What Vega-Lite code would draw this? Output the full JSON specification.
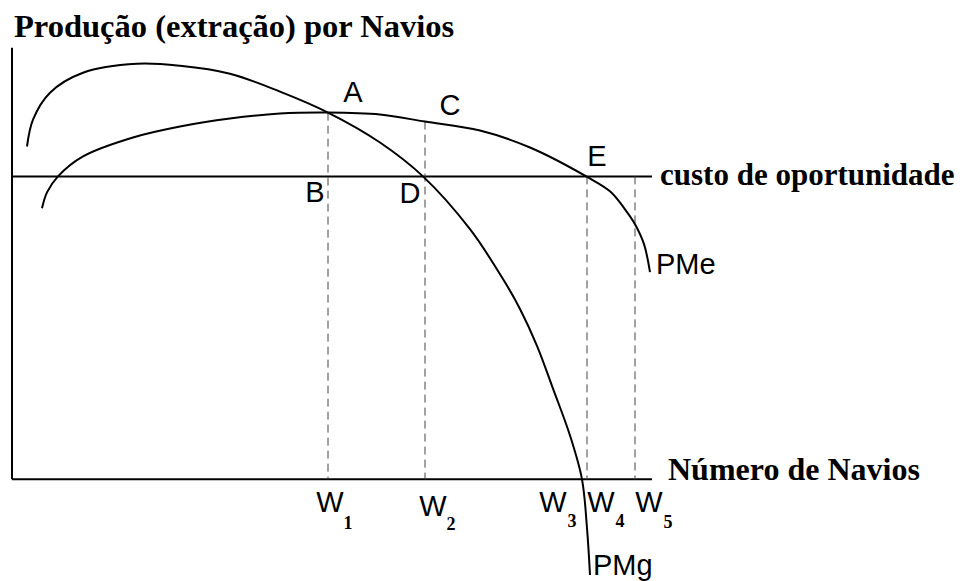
{
  "$schema": "https://vega.github.io/schema/vega-lite/v6.json",
  "width": 962,
  "height": 581,
  "autosize": {"type": "fit", "contains": "padding"},
  "padding": 0,
  "background": "white",
  "config": {"view": {"stroke": null}},
  "datasets": {
    "axes": [
      {"x": 0, "y": 0, "x2": 0, "y2": 433},
      {"x": 0, "y": 0, "x2": 640, "y2": 0},
      {"x": 0, "y": 304, "x2": 640, "y2": 304}
    ],
    "guides": [
      {"x": 316, "y": 368},
      {"x": 413, "y": 359},
      {"x": 575, "y": 304},
      {"x": 623, "y": 304}
    ],
    "curves": [
      {"curve": "PMg", "i": 1, "x": 15, "y": 334},
      {"curve": "PMg", "i": 2, "x": 21, "y": 361},
      {"curve": "PMg", "i": 3, "x": 38, "y": 388},
      {"curve": "PMg", "i": 4, "x": 71, "y": 408},
      {"curve": "PMg", "i": 5, "x": 125, "y": 417},
      {"curve": "PMg", "i": 6, "x": 168, "y": 415},
      {"curve": "PMg", "i": 7, "x": 218, "y": 407},
      {"curve": "PMg", "i": 8, "x": 268, "y": 389},
      {"curve": "PMg", "i": 9, "x": 316, "y": 368},
      {"curve": "PMg", "i": 10, "x": 368, "y": 338},
      {"curve": "PMg", "i": 11, "x": 411, "y": 304},
      {"curve": "PMg", "i": 12, "x": 458, "y": 251},
      {"curve": "PMg", "i": 13, "x": 491, "y": 201},
      {"curve": "PMg", "i": 14, "x": 508, "y": 171},
      {"curve": "PMg", "i": 15, "x": 525, "y": 134},
      {"curve": "PMg", "i": 16, "x": 541, "y": 91},
      {"curve": "PMg", "i": 17, "x": 558, "y": 44},
      {"curve": "PMg", "i": 18, "x": 570, "y": 0},
      {"curve": "PMg", "i": 19, "x": 575, "y": -49},
      {"curve": "PMg", "i": 20, "x": 578, "y": -96},
      {"curve": "PMe", "i": 1, "x": 30, "y": 272},
      {"curve": "PMe", "i": 2, "x": 35, "y": 288},
      {"curve": "PMe", "i": 3, "x": 46, "y": 304},
      {"curve": "PMe", "i": 4, "x": 71, "y": 324},
      {"curve": "PMe", "i": 5, "x": 121, "y": 343},
      {"curve": "PMe", "i": 6, "x": 168, "y": 354},
      {"curve": "PMe", "i": 7, "x": 218, "y": 362},
      {"curve": "PMe", "i": 8, "x": 268, "y": 367},
      {"curve": "PMe", "i": 9, "x": 316, "y": 368},
      {"curve": "PMe", "i": 10, "x": 368, "y": 366},
      {"curve": "PMe", "i": 11, "x": 413, "y": 359},
      {"curve": "PMe", "i": 12, "x": 468, "y": 350},
      {"curve": "PMe", "i": 13, "x": 518, "y": 333},
      {"curve": "PMe", "i": 14, "x": 576, "y": 303},
      {"curve": "PMe", "i": 15, "x": 598, "y": 289},
      {"curve": "PMe", "i": 16, "x": 613, "y": 271},
      {"curve": "PMe", "i": 17, "x": 623, "y": 256},
      {"curve": "PMe", "i": 18, "x": 632, "y": 236},
      {"curve": "PMe", "i": 19, "x": 638, "y": 208}
    ],
    "title": [
      {"t": "Produção (extração) por Navios", "x": 2, "y": 444}
    ],
    "serifLabels": [
      {"t": "custo de oportunidade", "x": 648, "y": 295}
    ],
    "xLabel": [
      {"t": "Número de Navios", "x": 656, "y": -1}
    ],
    "pointLabels": [
      {"t": "A", "x": 341, "y": 379},
      {"t": "C", "x": 438, "y": 366},
      {"t": "B", "x": 303, "y": 278},
      {"t": "D", "x": 398, "y": 277},
      {"t": "E", "x": 585, "y": 314},
      {"t": "W", "x": 318, "y": -33},
      {"t": "W", "x": 421, "y": -37},
      {"t": "W", "x": 541, "y": -33},
      {"t": "W", "x": 589, "y": -33},
      {"t": "W", "x": 637, "y": -33}
    ],
    "leftLabels": [
      {"t": "PMe", "x": 644, "y": 206},
      {"t": "PMg", "x": 581, "y": -96}
    ],
    "subs": [
      {"t": "1", "x": 336, "y": -50},
      {"t": "2", "x": 439, "y": -51},
      {"t": "3", "x": 560, "y": -48},
      {"t": "4", "x": 608, "y": -48},
      {"t": "5", "x": 656, "y": -49}
    ]
  },
  "layer": [
    {
      "data": {"name": "axes"},
      "mark": {"type": "rule", "color": "black", "strokeWidth": 2},
      "encoding": {
        "x": {"field": "x", "type": "quantitative", "scale": {"domain": [-12, 950], "nice": false, "zero": false}, "axis": null},
        "y": {"field": "y", "type": "quantitative", "scale": {"domain": [-100, 481], "nice": false, "zero": false}, "axis": null},
        "x2": {"field": "x2"},
        "y2": {"field": "y2"}
      }
    },
    {
      "data": {"name": "guides"},
      "mark": {"type": "rule", "color": "#444444", "strokeWidth": 1, "strokeDash": [8, 5]},
      "encoding": {
        "x": {"field": "x", "type": "quantitative"},
        "y": {"field": "y", "type": "quantitative"},
        "y2": {"datum": 0}
      }
    },
    {
      "data": {"name": "curves"},
      "mark": {"type": "line", "color": "black", "strokeWidth": 2, "interpolate": "catmull-rom"},
      "encoding": {
        "x": {"field": "x", "type": "quantitative"},
        "y": {"field": "y", "type": "quantitative"},
        "detail": {"field": "curve"},
        "order": {"field": "i", "type": "quantitative"}
      }
    },
    {
      "data": {"name": "title"},
      "mark": {"type": "text", "font": "Liberation Serif", "fontWeight": "bold", "fontSize": 32.5, "align": "left", "baseline": "alphabetic", "color": "black"},
      "encoding": {
        "x": {"field": "x", "type": "quantitative"},
        "y": {"field": "y", "type": "quantitative"},
        "text": {"field": "t"}
      }
    },
    {
      "data": {"name": "serifLabels"},
      "mark": {"type": "text", "font": "Liberation Serif", "fontWeight": "bold", "fontSize": 31, "align": "left", "baseline": "alphabetic", "color": "black"},
      "encoding": {
        "x": {"field": "x", "type": "quantitative"},
        "y": {"field": "y", "type": "quantitative"},
        "text": {"field": "t"}
      }
    },
    {
      "data": {"name": "xLabel"},
      "mark": {"type": "text", "font": "Liberation Serif", "fontWeight": "bold", "fontSize": 32, "align": "left", "baseline": "alphabetic", "color": "black"},
      "encoding": {
        "x": {"field": "x", "type": "quantitative"},
        "y": {"field": "y", "type": "quantitative"},
        "text": {"field": "t"}
      }
    },
    {
      "data": {"name": "pointLabels"},
      "mark": {"type": "text", "font": "Liberation Sans", "fontSize": 29, "align": "center", "baseline": "alphabetic", "color": "black"},
      "encoding": {
        "x": {"field": "x", "type": "quantitative"},
        "y": {"field": "y", "type": "quantitative"},
        "text": {"field": "t"}
      }
    },
    {
      "data": {"name": "leftLabels"},
      "mark": {"type": "text", "font": "Liberation Sans", "fontSize": 29, "align": "left", "baseline": "alphabetic", "color": "black"},
      "encoding": {
        "x": {"field": "x", "type": "quantitative"},
        "y": {"field": "y", "type": "quantitative"},
        "text": {"field": "t"}
      }
    },
    {
      "data": {"name": "subs"},
      "mark": {"type": "text", "font": "Liberation Serif", "fontWeight": "bold", "fontSize": 18, "align": "center", "baseline": "alphabetic", "color": "black"},
      "encoding": {
        "x": {"field": "x", "type": "quantitative"},
        "y": {"field": "y", "type": "quantitative"},
        "text": {"field": "t"}
      }
    }
  ]
}
